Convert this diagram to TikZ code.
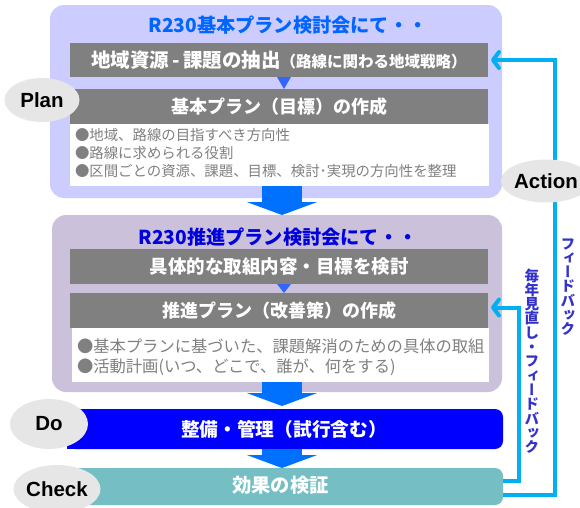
\documentclass[tikz,border=0pt]{standalone}
\usepackage{fontspec}
\setmainfont{Noto Sans CJK JP}
\newfontfamily\lat{Liberation Sans}
\newfontfamily\vjp{Noto Sans CJK JP}[RawFeature=+vert]
\newcommand\myvfont{\vjp\bfseries\fontsize{14.6}{14.3}\selectfont\lineskiplimit=-100pt\relax\lineskip=0pt\relax}
\usetikzlibrary{arrows.meta,calc,shapes.geometric}
\definecolor{boxA}{RGB}{204,204,255}
\definecolor{boxB}{RGB}{204,193,218}
\definecolor{barg}{RGB}{128,128,128}
\definecolor{ttlA}{RGB}{0,102,255}
\definecolor{ttlB}{RGB}{0,0,220}
\definecolor{arrb}{RGB}{0,112,255}
\definecolor{tric}{RGB}{51,102,255}
\definecolor{dob}{RGB}{0,0,255}
\definecolor{chk}{RGB}{117,191,196}
\definecolor{ell}{RGB}{230,230,230}
\definecolor{fbc}{RGB}{0,176,240}
\definecolor{vtx}{RGB}{51,51,204}
\definecolor{bul}{RGB}{128,128,128}
\begin{document}
\begin{tikzpicture}[x=1pt,y=-1pt,inner sep=0pt,outer sep=0pt,
  panel/.style={fill=#1,rounded corners=14pt,anchor=north west},
  bar/.style={fill=barg,anchor=north west,minimum width=418pt,text=white,font=\bfseries},
  wbox/.style={fill=white,anchor=north west},
  ttl/.style={text=#1,font=\bfseries\fontsize{19.2}{21}\selectfont},
  bline/.style={anchor=west,text=bul},
  pdca/.style={ellipse,fill=ell,font=\lat\bfseries\fontsize{20.5}{22}\selectfont},
  bigarr/.style={draw=arrb,line width=40pt,-{Triangle[length=13pt,width=70pt]}},
  tri/.style={fill=tric},
  fb/.style={draw=fbc,line width=4pt,-{Straight Barb[length=6pt,width=16pt,round]}},
  vtext/.style={text=vtx,align=center,font=\myvfont}
]
\useasboundingbox (0,0) rectangle (580,507);
\coordinate (ax) at (282,0);
% top panel
\node[panel=boxA,minimum width=452pt,minimum height=193pt] (box1) at (50,5) {};
\node[ttl=ttlA] (t1) at (288,25) {R230基本プラン検討会にて・・};
\node[bar,minimum height=34pt] (bar1) at (70,43) {{\fontsize{19.5}{21}\selectfont 地域資源\,-\,課題の抽出}{\fontsize{15.5}{17}\selectfont（路線に関わる地域戦略）}};
\node[bar,minimum height=35pt,font=\bfseries\fontsize{18}{20}\selectfont] (bar2) at (70,89) {基本プラン（目標）の作成};
\fill[tri] ($(bar1.south)+(-2,0)$) -- ($(bar1.south)+(12,0)$) -- ($(bar2.north)+(5,0)$) -- cycle;
\node[wbox,minimum width=419pt,minimum height=62pt] (wb1) at (70,124) {};
\begin{scope}[every node/.append style={font=\fontsize{14.4}{16}\selectfont}]
\node[bline] (b11) at (75,135) {●地域、路線の目指すべき方向性};
\node[bline] (b12) at (75,153) {●路線に求められる役割};
\node[bline] (b13) at (75,171) {●区間ごとの資源、課題、目標、検討･実現の方向性を整理};
\end{scope}
\node[pdca,minimum width=75pt,minimum height=44pt] (plan) at (42,100) {Plan};
% second panel
\node[panel=boxB,minimum width=450pt,minimum height=177pt] (box2) at (52,215) {};
\node[ttl=ttlB] (t2) at (278,237) {R230推進プラン検討会にて・・};
\node[bar,minimum height=35pt,font=\bfseries\fontsize{18.5}{20}\selectfont] (bar3) at (70,249) {具体的な取組内容・目標を検討};
\node[bar,minimum height=35pt,font=\bfseries\fontsize{18}{20}\selectfont] (bar4) at (70,293) {推進プラン（改善策）の作成};
\fill[tri] ($(bar3.south)+(-2,0)$) -- ($(bar3.south)+(12,0)$) -- ($(bar4.north)+(5,0)$) -- cycle;
\node[wbox,minimum width=417pt,minimum height=54pt] (wb2) at (72,328) {};
\begin{scope}[every node/.append style={font=\fontsize{16.3}{18}\selectfont}]
\node[bline] (b21) at (77,346) {●基本プランに基づいた、課題解消のための具体の取組};
\node[bline] (b22) at (77,367) {●活動計画(いつ、どこで、誰が、何をする)};
\end{scope}
\draw[bigarr] (wb1.south -| ax) -- (box2.north -| ax);
% Do
\node[fill=dob,rounded corners=8pt,anchor=north west,minimum width=436pt,minimum height=40pt] (do) at (67,409) {};
\fill[dob] (do.north west) rectangle (do.south);
\node[text=white,font=\bfseries\fontsize{18.7}{20}\selectfont] (dot) at ($(do.center)+(-1,0)$) {整備・管理（試行含む）};
\draw[bigarr,shorten >=3pt] (wb2.south -| ax) -- (do.north -| ax);
% Check
\node[fill=chk,rounded corners=8pt,anchor=north west,minimum width=431pt,minimum height=37pt] (chk) at (72,468) {};
\fill[chk] (chk.north west) rectangle (chk.south);
\node[text=white,font=\bfseries\fontsize{19.3}{21}\selectfont] (chkt) at ($(chk.center)+(-7,-1)$) {効果の検証};
\draw[bigarr] (do.south -| ax) -- (chk.north -| ax);
\node[pdca,minimum width=78pt,minimum height=50pt] (doe) at (49,424) {Do};
\node[pdca,minimum width=80pt,minimum height=48pt] (che) at (57,489) {Check};
% feedback
\coordinate (o1) at (555,495);
\coordinate (i1) at (519,481);
\draw[fb,shorten >=3pt] (chk.east |- o1) -- (o1) |- (bar1.east);
\draw[fb,shorten >=3pt] (chk.east |- i1) -- (i1) |- ($(bar4.east)+(0,-3)$);
\node[pdca,minimum width=72pt,minimum height=43pt] (act) at (546,181) {Action};
\node[vtext] (fb1) at (568,287) {フ\\ィ\\ー\\ド\\バ\\ッ\\ク};
\node[vtext] (fb2) at (532,361) {毎\\年\\見\\直\\し\\・\\フ\\ィ\\ー\\ド\\バ\\ッ\\ク};
\end{tikzpicture}
\end{document}
